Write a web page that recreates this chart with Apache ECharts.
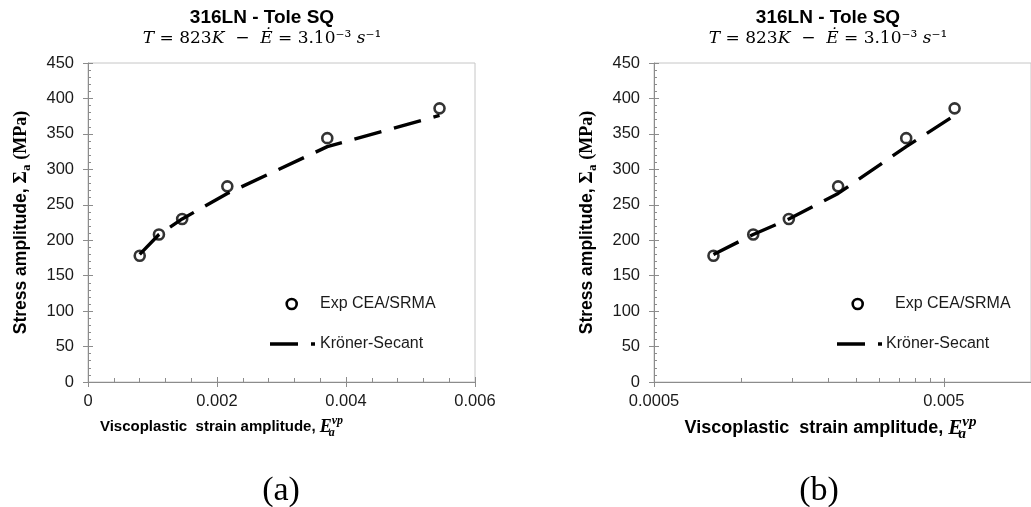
<!DOCTYPE html>
<html>
<head>
<meta charset="utf-8">
<script src="https://cdn.jsdelivr.net/npm/echarts@6/dist/echarts.min.js"></script>
<style>
html,body{margin:0;padding:0;background:#fff;}
#c{width:1031px;height:507px;}
</style>
</head>
<body>
<div id="c"></div>
<script>
// ---- data ----
const strain = [0.000802, 0.0011, 0.00146, 0.00216, 0.00371, 0.00545];
const expStress = [178, 208, 230, 276, 344, 386];
const modelStress = [180, 208, 230, 266, 332, 376];
const linTicks = [0, 0.002, 0.004, 0.006];
const logBase = 0.0005;          // log axis starts here
const logLabels = [0.0005, 0.005];
const logMinor = [0.0005, 0.001, 0.0015, 0.002, 0.0025, 0.003, 0.0035, 0.004, 0.0045, 0.005, 0.01];
const logMax = 0.01;
const titleText = '316LN - Tole SQ';
const expName = 'Exp CEA/SRMA';
const modelName = 'Kröner-Secant';

const L = v => Math.log10(v / logBase);

const SANS = '"Liberation Sans", Arial, sans-serif';
const SERIF = '"Liberation Serif", "DejaVu Serif", serif';
const MATH = '"DejaVu Serif", "Liberation Serif", serif';
const AXIS_COL = '#8c8c8c';
const BORDER_COL = '#c6c6c6';
const DASH = [28, 13];

const chart = echarts.init(document.getElementById('c'), null, {renderer: 'canvas'});

const grids = [
  {left: 88, top: 63, width: 387, bottom: 125, show: true, borderColor: BORDER_COL, borderWidth: 1, containLabel: false},
  {left: 654, top: 63, width: 387.3, bottom: 125, show: true, borderColor: BORDER_COL, borderWidth: 1, containLabel: false}
];

function xName(fs, pad) {
  return {
    name: 'Viscoplastic  strain amplitude, {e|E}{sub|a}{sup|vp}',
    nameLocation: 'middle',
    nameGap: 32,
    nameTextStyle: {
      fontFamily: SANS, fontWeight: 'bold', fontSize: fs, color: '#000', padding: pad,
      rich: {
        e: {fontFamily: SERIF, fontStyle: 'italic', fontWeight: 'bold', fontSize: fs + 3, color: '#000'},
        sub: {fontFamily: SERIF, fontStyle: 'italic', fontWeight: 'bold', fontSize: fs - 3, color: '#000', width: 0, padding: [12, 0, 0, 0]},
        sup: {fontFamily: SERIF, fontStyle: 'italic', fontWeight: 'bold', fontSize: fs - 3, color: '#000', padding: [0, 0, 12, 0]}
      }
    }
  };
}
const yName = {
  name: 'Stress amplitude, {s|Σ}{sub|a} {m|(MPa)}',
  nameLocation: 'middle',
  nameRotate: 90,
  nameTextStyle: {
    fontFamily: SANS, fontWeight: 'bold', fontSize: 17.5, color: '#000',
    rich: {
      s: {fontFamily: SERIF, fontWeight: 'bold', fontSize: 19, color: '#000'},
      sub: {fontFamily: SERIF, fontWeight: 'bold', fontSize: 13, color: '#000', padding: [10, 0, 0, 0]},
      m: {fontFamily: SERIF, fontWeight: 'bold', fontSize: 18, color: '#000'}
    }
  }
};
const labelStyle = {fontFamily: SANS, fontSize: 16.5, color: '#1a1a1a'};

function yAxes(gridIndex, nameGap) {
  return [
    Object.assign({}, yName, {
      type: 'value', gridIndex, min: 0, max: 450, interval: 50, position: 'left', nameGap,
      axisLine: {show: true, lineStyle: {color: AXIS_COL, width: 1}},
      axisTick: {show: true, inside: true, length: 5, lineStyle: {color: AXIS_COL}},
      minorTick: {show: true, splitNumber: 5, length: 3, lineStyle: {color: AXIS_COL}},
      axisLabel: Object.assign({margin: 14}, labelStyle),
      splitLine: {show: false}
    }),
    {
      type: 'value', gridIndex, min: 0, max: 450, interval: 50, position: 'left',
      axisLine: {show: false}, axisLabel: {show: false}, splitLine: {show: false},
      axisTick: {show: true, inside: false, length: 5, lineStyle: {color: AXIS_COL}}
    }
  ];
}

const xAxes = [
  Object.assign({}, xName(15, [0, 120, 0, 0]), {
    type: 'value', gridIndex: 0, min: 0, max: 0.006, interval: 0.002, position: 'bottom',
    axisLine: {show: true, lineStyle: {color: AXIS_COL, width: 1}},
    axisTick: {show: true, inside: true, length: 5, lineStyle: {color: AXIS_COL}},
    minorTick: {show: true, splitNumber: 5, length: 4, lineStyle: {color: AXIS_COL}},
    axisLabel: Object.assign({margin: 11, formatter: v => String(+v.toFixed(4)), customValues: linTicks}, labelStyle),
    splitLine: {show: false}
  }),
  {
    type: 'value', gridIndex: 0, min: 0, max: 0.006, interval: 0.002, position: 'bottom',
    axisLine: {show: false}, axisLabel: {show: false}, splitLine: {show: false},
    axisTick: {show: true, inside: false, length: 5, lineStyle: {color: AXIS_COL}}
  },
  Object.assign({}, xName(18, [0, 24, 0, 0]), {
    type: 'value', gridIndex: 1, min: 0, max: L(logMax), interval: 1, position: 'bottom',
    axisLine: {show: true, lineStyle: {color: AXIS_COL, width: 1}},
    axisTick: {show: true, inside: true, length: 4, customValues: logMinor.map(L), lineStyle: {color: AXIS_COL}},
    axisLabel: Object.assign({margin: 11, customValues: logLabels.map(L),
      formatter: v => String(+(logBase * Math.pow(10, v)).toPrecision(1))}, labelStyle),
    splitLine: {show: false}
  }),
  {
    type: 'value', gridIndex: 1, min: 0, max: L(logMax), interval: 1, position: 'bottom',
    axisLine: {show: false}, axisLabel: {show: false}, splitLine: {show: false},
    axisTick: {show: true, inside: false, length: 5, customValues: logLabels.map(L), lineStyle: {color: AXIS_COL}}
  }
];

function seriesFor(xi, yi, tx) {
  return [
    {
      name: expName, type: 'scatter', xAxisIndex: xi, yAxisIndex: yi,
      symbol: 'circle', symbolSize: 10,
      itemStyle: {color: 'rgba(255,255,255,0)', borderColor: '#000', borderWidth: 2.6},
      data: strain.map((x, i) => [tx(x), expStress[i]]), z: 3
    },
    {
      name: modelName, type: 'line', xAxisIndex: xi, yAxisIndex: yi,
      symbol: 'none', smooth: false,
      lineStyle: {color: '#000', width: 3.4, type: DASH, cap: 'butt'},
      data: strain.map((x, i) => [tx(x), modelStress[i]]), z: 4
    }
  ];
}

function legendGraphic(cx, cy1, cy2, textX1, textX2, lineX) {
  return [
    {type: 'circle', shape: {cx: cx, cy: cy1, r: 5}, style: {fill: 'rgba(0,0,0,0)', stroke: '#000', lineWidth: 2.6}, z: 10},
    {type: 'text', x: textX1, y: cy1, style: {text: expName, fontFamily: SANS, fontSize: 16, fill: '#1a1a1a', verticalAlign: 'middle'}, z: 10},
    {type: 'line', shape: {x1: lineX, y1: cy2, x2: lineX + 45, y2: cy2}, style: {stroke: '#000', lineWidth: 3.4, lineDash: DASH}, z: 10},
    {type: 'text', x: textX2, y: cy2, style: {text: modelName, fontFamily: SANS, fontSize: 16, fill: '#1a1a1a', verticalAlign: 'middle'}, z: 10}
  ];
}

function titleBlock(cx) {
  return [
    {type: 'text', x: cx, y: 18, style: {text: titleText, fontFamily: SANS, fontWeight: 'bold', fontSize: 19, fill: '#000', align: 'center', verticalAlign: 'middle'}},
    {type: 'text', x: cx, y: 39, style: {
      text: '{i|T} = 823{i|K}  −  {i|Ė} = 3.10⁻³ {i|s}⁻¹',
      fontFamily: MATH, fontSize: 17, fill: '#000', align: 'center', verticalAlign: 'middle',
      rich: {i: {fontFamily: MATH, fontStyle: 'italic', fontSize: 17, fill: '#000'}}
    }}
  ];
}

const option = {
  backgroundColor: '#fff',
  animation: false,
  grid: grids,
  xAxis: xAxes,
  yAxis: yAxes(0, 55).concat(yAxes(1, 55)),
  series: seriesFor(0, 0, x => x).concat(seriesFor(2, 2, L)),
  graphic: [].concat(
    titleBlock(262), titleBlock(828),
    legendGraphic(291.7, 304, 344, 320, 320, 270),
    legendGraphic(857.7, 304, 344, 895, 886, 837),
    [
      {type: 'text', x: 281, y: 491, style: {text: '(a)', fontFamily: SERIF, fontSize: 34, fill: '#000', align: 'center', verticalAlign: 'middle'}},
      {type: 'text', x: 819, y: 491, style: {text: '(b)', fontFamily: SERIF, fontSize: 34, fill: '#000', align: 'center', verticalAlign: 'middle'}}
    ]
  )
};
chart.setOption(option);
</script>
</body>
</html>
